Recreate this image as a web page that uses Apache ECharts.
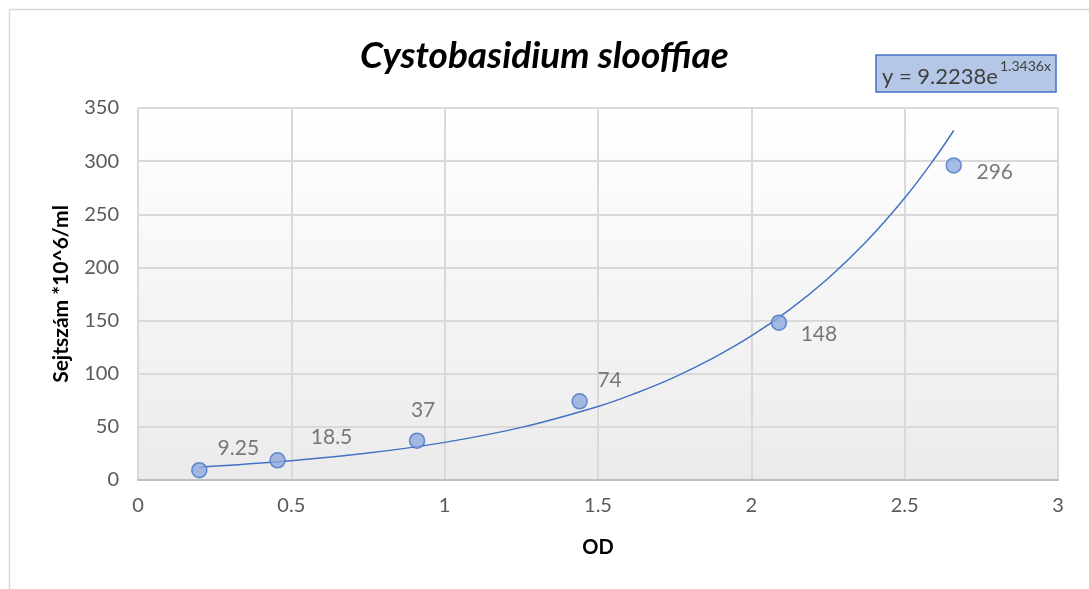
<!DOCTYPE html>
<html>
<head>
<meta charset="utf-8">
<script src="https://cdn.jsdelivr.net/npm/echarts@6/dist/echarts.min.js"></script>
<style>
  html, body { margin: 0; padding: 0; background: #fff; }
  #chart { width: 1089px; height: 589px; }
</style>
</head>
<body>
<div id="chart"></div>
<script>
// measured points (OD -> cell count)
const odValues = [0.2, 0.455, 0.91, 1.44, 2.09, 2.66]
const cellCounts = [9.25, 18.5, 37, 74, 148, 296]

// exponential trendline
const trendOd = [0.2, 0.5, 0.75, 1, 1.25, 1.5, 1.625, 1.75, 1.875, 2, 2.125, 2.25, 2.375, 2.5, 2.6, 2.66]
const trendCounts = [12.1, 18.1, 25.3, 35.4, 49.5, 69.2, 81.9, 96.8, 114.6, 135.5, 160.3, 189.6, 224.3, 265.3, 303.4, 328.8]

const equationText = 'y = 9.2238e'
const equationExp = '1.3436x'

const chart = echarts.init(document.getElementById('chart'))

// label offsets per point, as placed in the original
const labelShift = [[39, -22], [54, -23], [6, -30], [30, -21], [40, 12], [41, 7]]

chart.setOption({
  animation: false,
  textStyle: { fontFamily: 'Lato' },
  title: {
    text: 'Cystobasidium slooffiae',
    left: 'center',
    top: 33,
    textStyle: { fontSize: 37, fontWeight: 'bold', fontStyle: 'italic', color: '#000', fontFamily: 'Lato' }
  },
  graphic: [
    { type: 'line', shape: { x1: 9.5, y1: 9.5, x2: 1089, y2: 9.5 }, style: { stroke: '#d9d9d9', lineWidth: 1.5 } },
    { type: 'line', shape: { x1: 9.5, y1: 9.5, x2: 9.5, y2: 589 }, style: { stroke: '#d9d9d9', lineWidth: 1.5 } },
    {
      type: 'rect',
      shape: { x: 876, y: 55, width: 180, height: 37 },
      style: { fill: '#b4c7e7', stroke: '#4472c4', lineWidth: 1.5 }
    },
    {
      type: 'text',
      left: 882,
      top: 59,
      style: {
        text: '{b|' + equationText + '}{s|' + equationExp + '}',
        rich: {
          b: { fontSize: 22, fill: '#404040', fontFamily: 'Lato', verticalAlign: 'bottom', height: 28 },
          s: { fontSize: 14, fill: '#404040', fontFamily: 'Lato', verticalAlign: 'top', height: 28, padding: [0, 0, 11, 2] }
        }
      }
    }
  ],
  grid: {
    left: 138,
    right: 31,
    top: 108,
    bottom: 109,
    show: true,
    borderWidth: 0,
    backgroundColor: new echarts.graphic.LinearGradient(0, 0, 0, 1, [
      { offset: 0, color: '#ffffff' },
      { offset: 1, color: '#ebebeb' }
    ])
  },
  xAxis: {
    type: 'value',
    min: 0,
    max: 3,
    interval: 0.5,
    name: 'OD',
    nameLocation: 'middle',
    nameGap: 58,
    nameTextStyle: { fontSize: 20, fontWeight: 'bold', color: '#000' },
    axisLine: { show: true, lineStyle: { color: '#bfbfbf', width: 2 } },
    axisTick: { show: false },
    axisLabel: { fontSize: 20, color: '#595959', margin: 16 },
    splitLine: { show: true, lineStyle: { color: '#d9d9d9', width: 2 } }
  },
  yAxis: {
    type: 'value',
    min: 0,
    max: 350,
    interval: 50,
    name: 'Sejtszám *10^6/ml',
    nameLocation: 'middle',
    nameGap: 66,
    nameTextStyle: { fontSize: 21, fontWeight: 'bold', color: '#000' },
    axisLine: { show: false },
    axisTick: { show: false },
    axisLabel: { fontSize: 20, color: '#595959', margin: 19 },
    splitLine: { show: true, lineStyle: { color: '#d9d9d9', width: 2 } }
  },
  series: [
    {
      type: 'line',
      data: trendOd.map((x, i) => [x, trendCounts[i]]),
      smooth: 0.4,
      showSymbol: false,
      lineStyle: { color: '#4472c4', width: 1.5 },
      z: 2
    },
    {
      type: 'scatter',
      data: odValues.map((x, i) => ({
        value: [x, cellCounts[i]],
        label: { offset: labelShift[i] }
      })),
      symbolSize: 15,
      itemStyle: { color: '#8faadc', borderColor: '#4472c4', borderWidth: 1.5 },
      label: {
        show: true,
        position: 'inside',
        formatter: p => String(p.value[1]),
        fontSize: 21,
        color: '#595959'
      },
      z: 3
    }
  ]
})
</script>
</body>
</html>
